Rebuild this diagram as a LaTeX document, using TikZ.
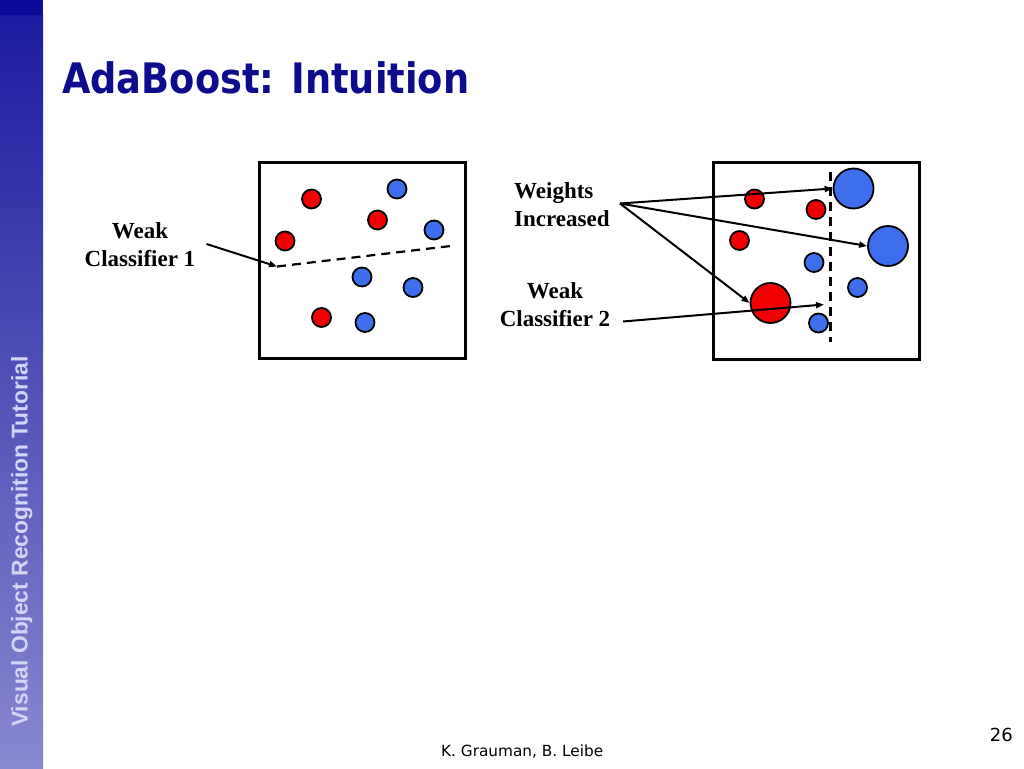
\documentclass[tikz,border=0pt]{standalone}
\usepackage{fontspec}
\setmainfont{Liberation Serif}
\newfontfamily\titlefont{DejaVu Sans}
\newfontfamily\sidefont{Liberation Sans}
\usetikzlibrary{arrows.meta}
\definecolor{navy}{HTML}{0C0C8C}
\definecolor{sidetop}{HTML}{0C0C9A}
\definecolor{sideA}{HTML}{1C1CA0}
\definecolor{sideB}{HTML}{8888D0}
\definecolor{sidetext}{HTML}{D4D4F4}
\definecolor{dotred}{HTML}{F00000}
\definecolor{dotblue}{HTML}{3C6EEE}
\tikzset{
  dotbase/.style={circle, draw=black, line width=1.8pt, inner sep=0pt},
  rdot/.style={dotbase, fill=dotred, minimum size=19pt},
  bdot/.style={dotbase, fill=dotblue, minimum size=19pt},
  rbig/.style={dotbase, fill=dotred, minimum size=40pt},
  bbig/.style={dotbase, fill=dotblue, minimum size=40pt},
  frame/.style={draw=black, line width=3pt},
  divider/.style={line width=2.2pt, dash pattern=on 9pt off 6pt},
  arr/.style={line width=2pt, -{Triangle[length=8pt,width=6pt]}},
  lbl/.style={font=\fontsize{23}{28}\selectfont\bfseries, inner sep=0pt},
}
\begin{document}
\begin{tikzpicture}[x=1pt,y=-1pt]
\useasboundingbox (0,0) rectangle (1024,768);
\fill[white] (0,0) rectangle (1024,768);
% sidebar
\shade[top color=sideA, bottom color=sideB] (0,15) rectangle (43,768);
\fill[sidetop] (0,0) rectangle (43,15);
\node[rotate=90, anchor=base west, inner sep=0pt, text=sidetext,
      font=\sidefont\fontsize{22.8}{24}\selectfont\bfseries] (side) at (27.5,727)
      {Visual Object Recognition Tutorial};
% title
\node[anchor=base west, inner sep=0pt, text=navy] (title) at (62,93)
  {\titlefont\fontsize{42}{46}\selectfont\bfseries\scalebox{0.875}[1]{AdaBoost: Intuition}};
% footer
\node[anchor=base west, inner sep=0pt] (foot) at (441,756)
  {\titlefont\fontsize{15.3}{17}\selectfont K. Grauman, B. Leibe};
\node[anchor=base east, inner sep=0pt] (page) at (1013,741)
  {\titlefont\fontsize{18}{20}\selectfont 26};

% ---- left panel ----
\draw[frame] (259,162) rectangle (465,358);
\node[rdot] (l1) at (311.5,199) {};
\node[rdot] (l2) at (377.5,220) {};
\node[rdot] (l3) at (285,241) {};
\node[rdot] (l4) at (321.5,317.5) {};
\node[bdot] (l5) at (397,189) {};
\node[bdot] (l6) at (434,230) {};
\node[bdot] (l7) at (362,277) {};
\node[bdot] (l8) at (413,287.5) {};
\node[bdot] (l9) at (365,322.5) {};
\coordinate (d1a) at (277,266.5);
\coordinate (d1b) at (455,245.5);
\draw[divider] (d1a) -- (d1b);
\node[lbl, align=center] (wc1) at (140,244.5) {Weak\\Classifier 1};
\coordinate (wc1s) at (206.5,244);
\draw[arr] (wc1s) -- (d1a);

% ---- right panel ----
\draw[frame] (713,162) rectangle (919,359);
\node[rdot] (r1) at (754.5,199) {};
\node[rdot] (r2) at (816,209.5) {};
\node[rdot] (r3) at (739.5,240.5) {};
\node[rbig] (r4) at (770.5,303) {};
\node[bbig] (b1) at (853.5,188.5) {};
\node[bbig] (b2) at (888,246) {};
\node[bdot] (b3) at (814,262.5) {};
\node[bdot] (b4) at (857.5,287.5) {};
\node[bdot] (b5) at (818.5,323) {};
\coordinate (d2a) at (830.5,172);
\coordinate (d2b) at (830.5,342);
\draw[divider] (d2a) -- (d2b);

\node[lbl, align=left, anchor=west] (wi) at (514,205) {Weights\\Increased};
\coordinate (wis) at (620,203.5);
\draw[arr] (wis) -- (b1.west);
\draw[arr] (wis) -- (b2.west);
\draw[arr] (wis) -- (r4.west);

\node[lbl, align=center] (wc2) at (555,304.5) {Weak\\Classifier 2};
\coordinate (wc2s) at (623,321.5);
\coordinate (wc2e) at (824,304.5);
\draw[arr] (wc2s) -- (wc2e);
\end{tikzpicture}
\end{document}
